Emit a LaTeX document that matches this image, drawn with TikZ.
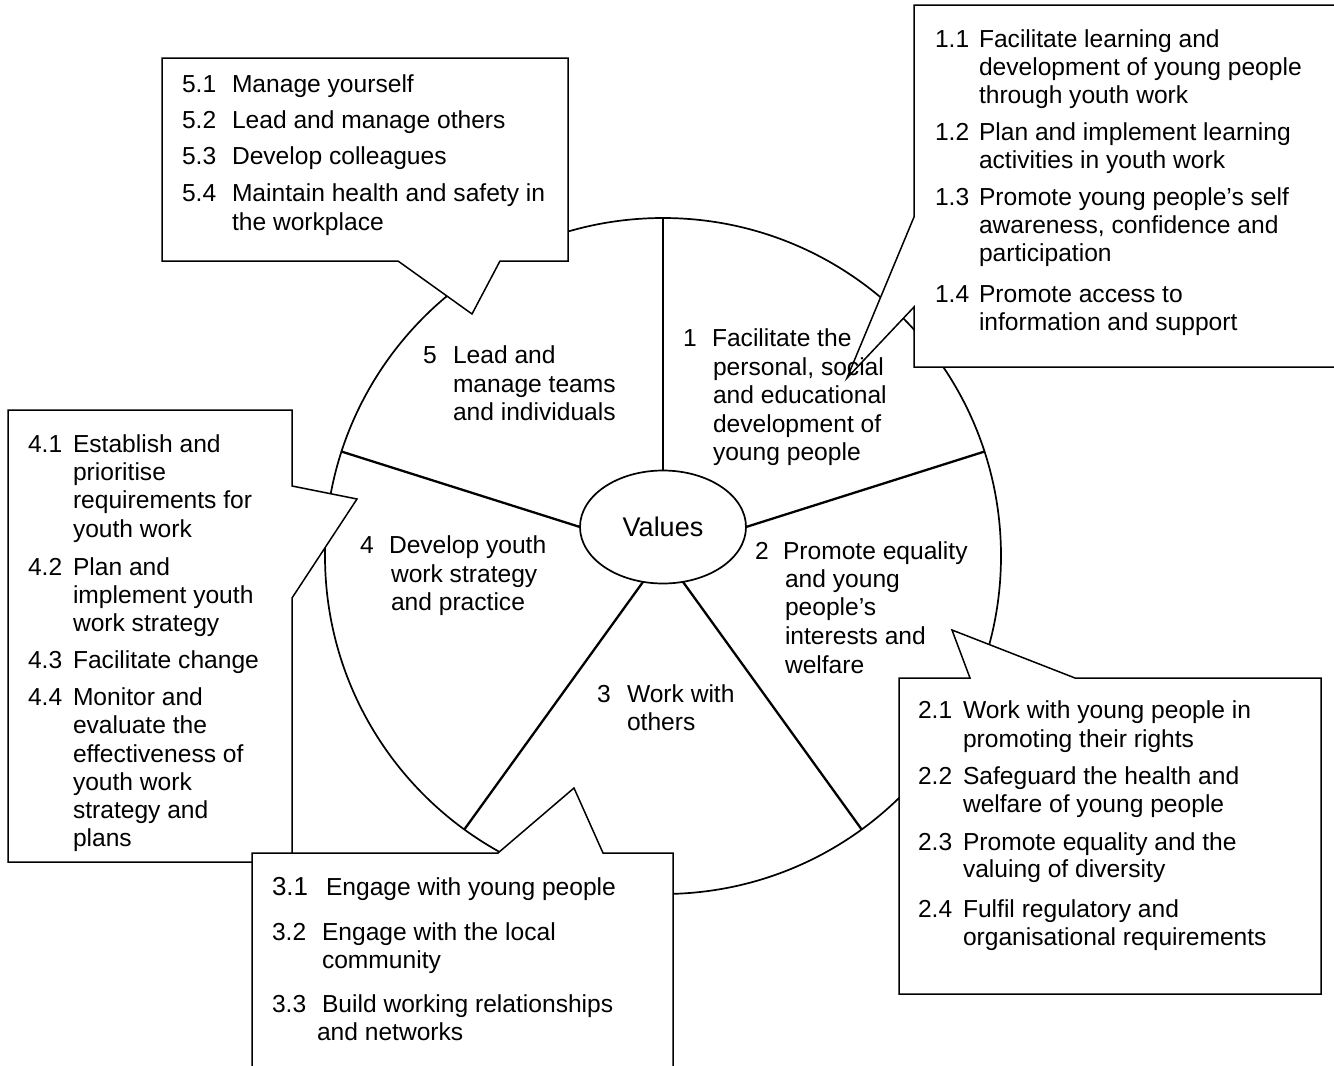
\documentclass[tikz,border=0pt]{standalone}
\usepackage{fontspec}
\setmainfont{Liberation Sans}
\usetikzlibrary{shapes.geometric}
\tikzset{
  txt/.style={font=\fontsize{24.6}{28}\selectfont, anchor=base west, inner sep=0pt, outer sep=0pt, text=black},
  rim/.style={draw=black, line width=1.7pt},
  sector/.style={draw=black, line width=2.3pt},
  callout/.style={draw=black, fill=white, line width=1.5pt, line join=miter},
}
\begin{document}
\begin{tikzpicture}[x=1pt, y=-1pt]
\useasboundingbox (0,0) rectangle (1334,1066);
\fill[white] (0,0) rectangle (1334,1066);

% wheel and values
\node[circle, rim, minimum size=676pt, inner sep=0pt, outer sep=0pt] (wheel) at (663,556) {};
\node[ellipse, rim, fill=white, minimum width=166pt, minimum height=113pt, inner sep=0pt, outer sep=0pt,
      font=\fontsize{27}{30}\selectfont] (values) at (663,527) {Values};
\draw[sector] (values.north) -- (wheel.north);
\draw[sector] (values.east) -- (wheel.18);
\draw[sector] (values.-70) -- (wheel.-54);
\draw[sector] (values.-110) -- (wheel.-126);
\draw[sector] (values.west) -- (wheel.162);

% callouts
\draw[callout] (162,58) -- (568,58) -- (568,261) -- (500,261) -- (472,314) -- (398,261) -- (162,261) -- cycle;
\draw[callout] (914,5) -- (1337,5) -- (1337,367) -- (914,367) -- (914,307) -- (847,378) -- (914,217) -- cycle;
\draw[callout] (8,410) -- (292,410) -- (292,486) -- (357,499) -- (292,598) -- (292,862) -- (8,862) -- cycle;
\draw[callout] (252,853) -- (498,853) -- (574,788) -- (603,853) -- (673,853) -- (673,1070) -- (252,1070) -- cycle;
\draw[callout] (899,678) -- (970,678) -- (952,630) -- (1075,678) -- (1321,678) -- (1321,994) -- (899,994) -- cycle;

% box 5
\node[txt] (b5n1) at (182,92) {5.1};
\node[txt] (b5t1) at (232,92) {Manage yourself};
\node[txt] (b5n2) at (182,128) {5.2};
\node[txt] (b5t2) at (232,128) {Lead and manage others};
\node[txt] (b5n3) at (182,164) {5.3};
\node[txt] (b5t3) at (232,164) {Develop colleagues};
\node[txt] (b5n4) at (182,201) {5.4};
\node[txt] (b5t4) at (232,201) {Maintain health and safety in};
\node[txt] (b5t4b) at (232,230) {the workplace};

% box 1
\node[txt] (b1n1) at (935,47) {1.1};
\node[txt] (b1t1) at (979,47) {Facilitate learning and};
\node[txt] (b1t1b) at (979,75) {development of young people};
\node[txt] (b1t1c) at (979,103) {through youth work};
\node[txt] (b1n2) at (935,140) {1.2};
\node[txt] (b1t2) at (979,140) {Plan and implement learning};
\node[txt] (b1t2b) at (979,168) {activities in youth work};
\node[txt] (b1n3) at (935,205) {1.3};
\node[txt] (b1t3) at (979,205) {Promote young people’s self};
\node[txt] (b1t3b) at (979,233) {awareness, confidence and};
\node[txt] (b1t3c) at (979,261) {participation};
\node[txt] (b1n4) at (935,302) {1.4};
\node[txt] (b1t4) at (979,302) {Promote access to};
\node[txt] (b1t4b) at (979,330) {information and support};

% box 4
\node[txt] (b4n1) at (28,452) {4.1};
\node[txt] (b4t1) at (73,452) {Establish and};
\node[txt] (b4t1b) at (73,480) {prioritise};
\node[txt] (b4t1c) at (73,508) {requirements for};
\node[txt] (b4t1d) at (73,537) {youth work};
\node[txt] (b4n2) at (28,575) {4.2};
\node[txt] (b4t2) at (73,575) {Plan and};
\node[txt] (b4t2b) at (73,603) {implement youth};
\node[txt] (b4t2c) at (73,631) {work strategy};
\node[txt] (b4n3) at (28,668) {4.3};
\node[txt] (b4t3) at (73,668) {Facilitate change};
\node[txt] (b4n4) at (28,705) {4.4};
\node[txt] (b4t4) at (73,705) {Monitor and};
\node[txt] (b4t4b) at (73,733) {evaluate the};
\node[txt] (b4t4c) at (73,762) {effectiveness of};
\node[txt] (b4t4d) at (73,790) {youth work};
\node[txt] (b4t4e) at (73,818) {strategy and};
\node[txt] (b4t4f) at (73,846) {plans};

% box 3
\node[txt, font=\fontsize{26}{28}\selectfont] (b3n1) at (272,895) {3.1};
\node[txt] (b3t1) at (326,895) {Engage with young people};
\node[txt] (b3n2) at (272,940) {3.2};
\node[txt] (b3t2) at (322,940) {Engage with the local};
\node[txt] (b3t2b) at (322,968) {community};
\node[txt] (b3n3) at (272,1012) {3.3};
\node[txt] (b3t3) at (322,1012) {Build working relationships};
\node[txt] (b3t3b) at (317,1040) {and networks};

% box 2
\node[txt] (b2n1) at (918,718) {2.1};
\node[txt] (b2t1) at (963,718) {Work with young people in};
\node[txt] (b2t1b) at (963,747) {promoting their rights};
\node[txt] (b2n2) at (918,784) {2.2};
\node[txt] (b2t2) at (963,784) {Safeguard the health and};
\node[txt] (b2t2b) at (963,812) {welfare of young people};
\node[txt] (b2n3) at (918,850) {2.3};
\node[txt] (b2t3) at (963,850) {Promote equality and the};
\node[txt] (b2t3b) at (963,877) {valuing of diversity};
\node[txt] (b2n4) at (918,917) {2.4};
\node[txt] (b2t4) at (963,917) {Fulfil regulatory and};
\node[txt] (b2t4b) at (963,945) {organisational requirements};

% sector labels
\node[txt] (s5n) at (423,363) {5};
\node[txt] (s5a) at (453,363) {Lead and};
\node[txt] (s5b) at (453,392) {manage teams};
\node[txt] (s5c) at (453,420) {and individuals};

\node[txt] (s1n) at (683,346) {1};
\node[txt] (s1a) at (712,346) {Facilitate the};
\node[txt] (s1b) at (713,375) {personal, social};
\node[txt] (s1c) at (713,403) {and educational};
\node[txt] (s1d) at (713,432) {development of};
\node[txt] (s1e) at (713,460) {young people};

\node[txt] (s2n) at (755,559) {2};
\node[txt] (s2a) at (783,559) {Promote equality};
\node[txt] (s2b) at (785,587) {and young};
\node[txt] (s2c) at (785,615) {people’s};
\node[txt] (s2d) at (785,644) {interests and};
\node[txt] (s2e) at (785,673) {welfare};

\node[txt] (s4n) at (360,553) {4};
\node[txt] (s4a) at (389,553) {Develop youth};
\node[txt] (s4b) at (391,582) {work strategy};
\node[txt] (s4c) at (391,610) {and practice};

\node[txt] (s3n) at (597,702) {3};
\node[txt] (s3a) at (627,702) {Work with};
\node[txt] (s3b) at (627,730) {others};
\end{tikzpicture}
\end{document}
